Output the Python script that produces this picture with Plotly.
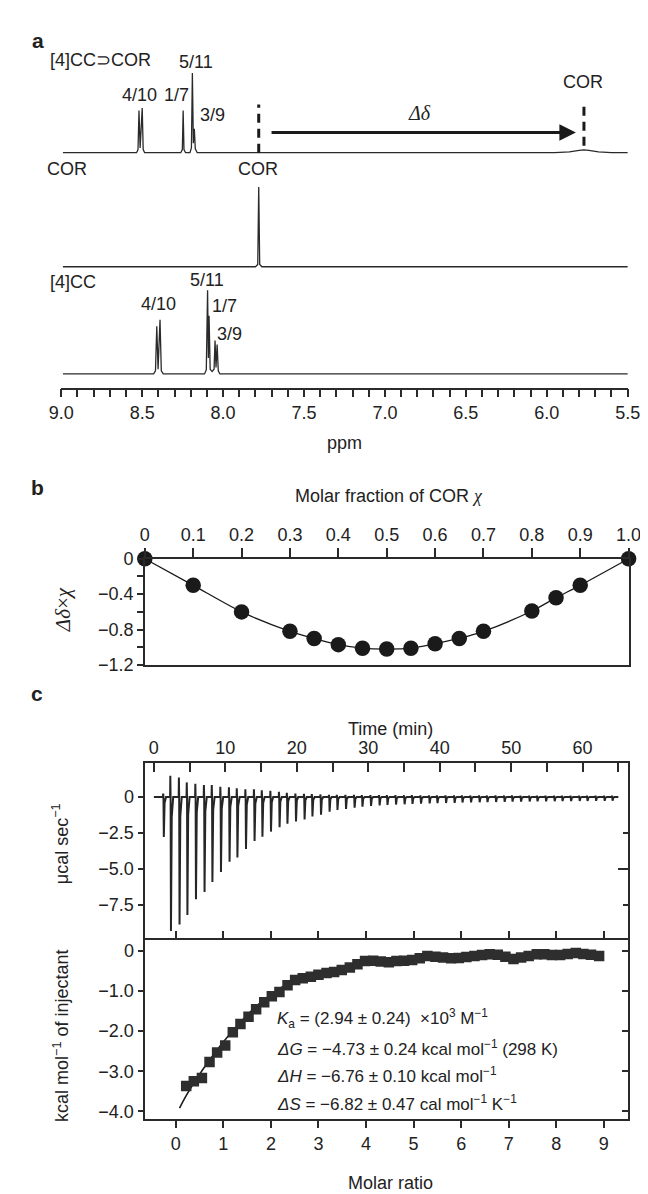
import plotly.graph_objects as go

# ---------------- panel a: 1H NMR spectra (ppm, relative intensity) ----------------
COMPLEX_PPM = [8.99, 8.535, 8.526, 8.52, 8.513, 8.50, 8.494, 8.485,
               8.262, 8.252, 8.247, 8.242, 8.232,
               8.205, 8.196, 8.19, 8.184, 8.178, 8.172, 8.16,
               5.95, 5.86, 5.80, 5.77, 5.74, 5.68, 5.60, 5.48]
COMPLEX_INT = [0, 0, 0.04, 0.53, 0.06, 0.56, 0.04, 0,
               0, 0.04, 0.53, 0.04, 0,
               0, 0.06, 1.0, 0.12, 0.30, 0.05, 0,
               0, 0.01, 0.03, 0.035, 0.03, 0.01, 0, 0]
COR_PPM = [8.99, 7.80, 7.786, 7.78, 7.774, 7.76, 5.48]
COR_INT = [0, 0, 0.03, 1.0, 0.03, 0, 0]
HOST_PPM = [8.99, 8.43, 8.418, 8.41, 8.402, 8.39, 8.382, 8.37,
            8.115, 8.104, 8.096, 8.091, 8.087, 8.08, 8.068, 8.056, 8.05, 8.044, 8.037, 8.03, 8.02, 5.48]
HOST_INT = [0, 0, 0.04, 0.60, 0.06, 0.68, 0.04, 0,
            0, 0.05, 1.05, 0.20, 0.73, 0.06, 0.03, 0.06, 0.42, 0.08, 0.37, 0.04, 0, 0]
COR_FREE_PPM = 7.78
COR_BOUND_PPM = 5.77
ARROW_FROM_PPM, ARROW_TO_PPM = 7.71, 5.82

# ---------------- panel b: Job plot ----------------
CHI = [0, 0.1, 0.2, 0.3, 0.35, 0.4, 0.45, 0.5, 0.55, 0.6, 0.65, 0.7, 0.8, 0.85, 0.9, 1.0]
DD_CHI = [0, -0.30, -0.60, -0.82, -0.90, -0.97, -1.01, -1.02, -1.01, -0.96, -0.90, -0.82,
          -0.59, -0.44, -0.30, 0]
CHI_TICKS = [0, 0.1, 0.2, 0.3, 0.4, 0.5, 0.6, 0.7, 0.8, 0.9, 1.0]
CHI_TICKTEXT = ["0", "0.1", "0.2", "0.3", "0.4", "0.5", "0.6", "0.7", "0.8", "0.9", "1.0"]
DD_TICKS = [0, -0.4, -0.8, -1.2]
DD_TICKTEXT = ["0", "−0.4", "−0.8", "−1.2"]
DD_MINOR = [-0.2, -0.6, -1.0]

# ---------------- panel c: ITC raw thermogram ----------------
INJ_TIME = [1.3, 2.3, 3.5, 4.6, 5.8, 7.0, 8.1, 9.3, 10.5, 11.6, 12.8, 14.0, 15.1, 16.3, 17.5,
            18.6, 19.8, 21.0, 22.1, 23.3, 24.5, 25.6, 26.8, 28.0, 29.1, 30.3, 31.5, 32.6, 33.8,
            35.0, 36.1, 37.3, 38.5, 39.6, 40.8, 42.0, 43.1, 44.3, 45.5, 46.6, 47.8, 49.0, 50.1,
            51.3, 52.5, 53.6, 54.8, 56.0, 57.1, 58.3, 59.5, 60.6, 61.8, 63.0, 64.1]
INJ_MIN = [-2.77, -9.3, -8.85, -8.2, -7.1, -6.6, -5.9, -5.2, -4.5, -4.2, -3.6, -3.05, -2.75,
           -2.4, -2.1, -1.85, -1.7, -1.55, -1.35, -1.22, -1.02, -0.9, -0.82, -0.74, -0.67,
           -0.62, -0.58, -0.55, -0.52, -0.5, -0.48, -0.46, -0.44, -0.42, -0.41, -0.4, -0.38,
           -0.37, -0.36, -0.35, -0.34, -0.33, -0.32, -0.32, -0.31, -0.3, -0.3, -0.29, -0.28,
           -0.28, -0.27, -0.27, -0.26, -0.26, -0.25]
INJ_MAX = [0.25, 1.48, 1.36, 1.02, 0.93, 0.83, 0.83, 0.72, 0.68, 0.61, 0.54, 0.54, 0.47, 0.43,
           0.36, 0.29, 0.25, 0.22, 0.2, 0.18, 0.16, 0.15, 0.15, 0.15, 0.14, 0.14, 0.14, 0.13,
           0.13, 0.13, 0.13, 0.12, 0.12, 0.12, 0.12, 0.12, 0.12, 0.11, 0.11, 0.11, 0.11, 0.11,
           0.11, 0.1, 0.1, 0.1, 0.1, 0.1, 0.1, 0.1, 0.1, 0.1, 0.1, 0.1, 0.1]
RUN_START, RUN_END = 0.0, 65.0
POWER_TICKS = [0, -2.5, -5.0, -7.5]
POWER_TICKTEXT = ["0", "−2.5", "−5.0", "−7.5"]

# ---------------- panel c: integrated heats ----------------
MOLAR_RATIO = [0.22, 0.38, 0.55, 0.71, 0.87, 1.04, 1.20, 1.36, 1.53, 1.69, 1.86, 2.02, 2.18,
               2.35, 2.51, 2.67, 2.84, 3.00, 3.17, 3.33, 3.49, 3.66, 3.82, 3.98, 4.15, 4.31,
               4.48, 4.64, 4.80, 4.97, 5.13, 5.29, 5.46, 5.62, 5.79, 5.95, 6.11, 6.28, 6.44,
               6.60, 6.77, 6.93, 7.10, 7.26, 7.42, 7.59, 7.75, 7.91, 8.08, 8.24, 8.41, 8.57,
               8.73, 8.90]
HEAT = [-3.37, -3.25, -3.17, -2.77, -2.53, -2.36, -2.03, -1.82, -1.64, -1.45, -1.28, -1.13,
        -1.02, -0.85, -0.72, -0.68, -0.64, -0.59, -0.55, -0.52, -0.47, -0.41, -0.33, -0.25,
        -0.24, -0.26, -0.28, -0.25, -0.24, -0.22, -0.18, -0.12, -0.14, -0.16, -0.18, -0.17,
        -0.15, -0.12, -0.10, -0.08, -0.09, -0.14, -0.20, -0.16, -0.12, -0.08, -0.08, -0.10,
        -0.10, -0.07, -0.05, -0.07, -0.09, -0.12]
FIT_RATIO = [0.08, 0.25, 0.5, 0.75, 1.0, 1.25, 1.5, 1.75, 2.0, 2.25, 2.5, 3.0, 3.5, 4.0, 4.5,
             5.0, 6.0, 7.0, 8.0, 8.9]
FIT_HEAT = [-3.92, -3.55, -3.08, -2.66, -2.27, -1.92, -1.60, -1.32, -1.08, -0.89, -0.74,
            -0.54, -0.41, -0.32, -0.26, -0.22, -0.17, -0.14, -0.12, -0.11]
HEAT_TICKS = [0, -1, -2, -3, -4]
HEAT_TICKTEXT = ["0", "−1.0", "−2.0", "−3.0", "−4.0"]

W, H = 648, 1194
INK = "#222222"
AX = "#2a2a2a"
FONT = "Liberation Sans, Arial, sans-serif"
SERIF = "Liberation Serif, Times New Roman, serif"


def X(p):
    return p / W


def Y(p):
    return 1 - p / H


# spectrum rows: baseline pixel, 81 px per unit intensity
def nmr_axis(base):
    return dict(domain=[Y(base + 5), Y(base - 95)], range=[-5 / 81, 95 / 81],
                visible=False, showticklabels=False, ticks="", showgrid=False,
                zeroline=False, anchor="free", position=0, fixedrange=True)


# thermogram path from the injection list
tx, ty = [RUN_START], [0.0]
for t, lo, hi in zip(INJ_TIME, INJ_MIN, INJ_MAX):
    tx += [t - 0.03, t, t + 0.04, t + 0.09, t + 0.2, t + 0.4]
    ty += [0, hi, 0, lo, lo * 0.15, 0]
tx.append(RUN_END)
ty.append(0.0)

fig = go.Figure()
spec = dict(mode="lines", line=dict(color="#2a2a2a", width=1.3), hoverinfo="skip")
fig.add_trace(go.Scatter(x=COMPLEX_PPM, y=COMPLEX_INT, xaxis="x", yaxis="y", **spec))
fig.add_trace(go.Scatter(x=COR_PPM, y=COR_INT, xaxis="x", yaxis="y2", **spec))
fig.add_trace(go.Scatter(x=HOST_PPM, y=HOST_INT, xaxis="x", yaxis="y3", **spec))

fig.add_trace(go.Scatter(x=CHI, y=DD_CHI, xaxis="x2", yaxis="y4", mode="lines+markers",
                         line=dict(color="#1a1a1a", width=1.3, shape="spline", smoothing=0.8),
                         marker=dict(size=15.5, color="#1a1a1a"), cliponaxis=False))

fig.add_trace(go.Scatter(x=tx, y=ty, xaxis="x3", yaxis="y5", mode="lines",
                         line=dict(color="#262626", width=2.0)))
fig.add_trace(go.Scatter(x=[], y=[], xaxis="x3", yaxis="y6"))

fig.add_trace(go.Scatter(x=FIT_RATIO, y=FIT_HEAT, xaxis="x4", yaxis="y7", mode="lines",
                         line=dict(color="#1a1a1a", width=1.6, shape="spline")))
fig.add_trace(go.Scatter(x=MOLAR_RATIO, y=HEAT, xaxis="x4", yaxis="y7", mode="markers",
                         marker=dict(symbol="square", size=10.5, color="#2e2e2e")))
fig.add_trace(go.Scatter(x=[], y=[], xaxis="x4", yaxis="y8"))

tickfont = dict(family=FONT, size=18, color=INK)
axline = dict(showline=True, linecolor=AX, linewidth=1.6, showgrid=False,
              zeroline=False, tickcolor=AX, tickwidth=1.5, tickfont=tickfont,
              fixedrange=True)

fig.update_layout(
    width=W, height=H, margin=dict(l=0, r=0, t=0, b=0),
    paper_bgcolor="white", plot_bgcolor="rgba(0,0,0,0)", showlegend=False,
    font=dict(family=FONT, size=18, color=INK),
    # panel a
    xaxis=dict(domain=[X(42), X(632)], range=[9.0, 5.5], anchor="free", position=Y(377),
               tick0=5.5, dtick=0.5, tickformat=".1f", ticks="outside", ticklen=8,
               minor=dict(dtick=0.1, tick0=5.5, ticks="outside", ticklen=8,
                          tickcolor=AX, tickwidth=1.5), **axline),
    yaxis=nmr_axis(137), yaxis2=nmr_axis(253), yaxis3=nmr_axis(362),
    # panel b
    xaxis2=dict(domain=[X(129), X(633)], range=[0, 1], anchor="y4", side="top",
                tickmode="array", tickvals=CHI_TICKS, ticktext=CHI_TICKTEXT,
                ticks="outside", ticklen=9, mirror=True, **axline),
    yaxis4=dict(domain=[Y(658), Y(550)], range=[-1.2, 0], anchor="x2",
                tickmode="array", tickvals=DD_TICKS, ticktext=DD_TICKTEXT,
                ticks="outside", ticklen=6,
                minor=dict(tickvals=DD_MINOR, ticks="outside", ticklen=6,
                           tickcolor=AX, tickwidth=1.5),
                mirror=True, **axline),
    # panel c, thermogram (its lower edge is drawn by the molar-ratio axis)
    xaxis3=dict(domain=[X(129.5), X(632)], range=[-1.2, 66.3], anchor="y5", side="top",
                tick0=0, dtick=10, ticks="inside", ticklen=9,
                minor=dict(dtick=5, tick0=0, ticks="inside", ticklen=9,
                           tickcolor=AX, tickwidth=1.5),
                mirror=False, **axline),
    yaxis5=dict(domain=[Y(938), Y(757.5)], range=[-9.95, 2.38], anchor="x3",
                tickmode="array", tickvals=POWER_TICKS, ticktext=POWER_TICKTEXT,
                ticks="outside", ticklen=6, mirror=True, **axline),
    yaxis6=dict(overlaying="y5", side="right", anchor="x3", range=[-9.95, 2.38],
                showline=False, showgrid=False, zeroline=False, showticklabels=False,
                tickmode="array", tickvals=[-5.0], ticks="inside", ticklen=10,
                tickcolor=AX, tickwidth=1.5,
                minor=dict(tickvals=[-2.5, -7.5], ticks="inside", ticklen=5,
                           tickcolor=AX, tickwidth=1.5), fixedrange=True),
    # panel c, integrated heats
    xaxis4=dict(domain=[X(129.5), X(632)], range=[-0.64, 9.5], anchor="y7",
                tick0=0, dtick=1, ticks="outside", ticklen=7, mirror="ticks", **axline),
    yaxis7=dict(domain=[Y(1120), Y(938)], range=[-4.2, 0.27], anchor="x4",
                tickmode="array", tickvals=HEAT_TICKS, ticktext=HEAT_TICKTEXT,
                ticks="outside", ticklen=6, mirror=True, **axline),
    yaxis8=dict(overlaying="y7", side="right", anchor="x4", range=[-4.2, 0.27],
                showline=False, showgrid=False, zeroline=False, showticklabels=False,
                tickmode="array", tickvals=HEAT_TICKS, ticks="inside", ticklen=6,
                tickcolor=AX, tickwidth=1.5, fixedrange=True),
)

dash = dict(color="#1a1a1a", width=3, dash="9px,6px")
fig.add_shape(type="line", xref="x", yref="paper", x0=COR_FREE_PPM, x1=COR_FREE_PPM,
              y0=Y(137), y1=Y(88), line=dash)
fig.add_shape(type="line", xref="x", yref="paper", x0=COR_BOUND_PPM, x1=COR_BOUND_PPM,
              y0=Y(130), y1=Y(87), line=dash)
fig.add_annotation(x=ARROW_TO_PPM, y=Y(116.5), xref="x", yref="paper",
                   ax=ARROW_FROM_PPM, ay=0, axref="x", ayref="pixel", text="",
                   showarrow=True, arrowhead=2, arrowsize=1.1, arrowwidth=3,
                   arrowcolor="#1a1a1a")


def label(text, x, y, size=18, anchor="center", **kw):
    fig.add_annotation(text=text, x=X(x), y=Y(y), xref="paper", yref="paper",
                       showarrow=False, xanchor=anchor, yanchor="middle",
                       font=dict(family=kw.pop("family", FONT), size=size, color=INK), **kw)


chi = "<span style='font-family:Liberation Serif'><i>χ</i></span>"
for txt, x, y in [("<b>a</b>", 18, 23), ("<b>b</b>", 17, 477), ("<b>c</b>", 17, 687)]:
    label(txt, x, y, size=21)

label("[4]CC⊃COR", 28, 43, anchor="left")
label("5/11", 182, 45)
label("4/10", 123, 78)
label("1/7", 162, 78)
label("3/9", 199, 99)
label("<i>Δδ</i>", 415, 97, size=20, family=SERIF)
label("COR", 586, 65)
label("COR", 48, 154)
label("COR", 247, 154)
label("[4]CC", 54, 268)
label("5/11", 194, 266)
label("4/10", 143, 291)
label("1/7", 212, 293)
label("3/9", 217, 321)
label("ppm", 337, 432)

label("Molar fraction of COR " + chi, 383, 486)
label("<i>Δδ</i>×<i>χ</i>", 44, 602, size=21, family=SERIF, textangle=-90)

label("Time (min)", 385, 723)
label("μcal sec<sup>−1</sup>", 42, 840, textangle=-90)
label("kcal mol<sup>−1</sup> of injectant", 42, 1035, textangle=-90)
label("Molar ratio", 385, 1185)

label("<i>K</i><sub>a</sub> = (2.94 ± 0.24)  ×10<sup>3</sup> M<sup>−1</sup>", 265, 1018,
      size=17, anchor="left")
label("<i>ΔG</i> = −4.73 ± 0.24 kcal mol<sup>−1</sup> (298 K)", 265, 1048, size=17,
      anchor="left")
label("<i>ΔH</i> = −6.76 ± 0.10 kcal mol<sup>−1</sup>", 265, 1075, size=17, anchor="left")
label("<i>ΔS</i> = −6.82 ± 0.47 cal mol<sup>−1</sup> K<sup>−1</sup>", 265, 1103, size=17,
      anchor="left")

fig.write_html("out.html")
